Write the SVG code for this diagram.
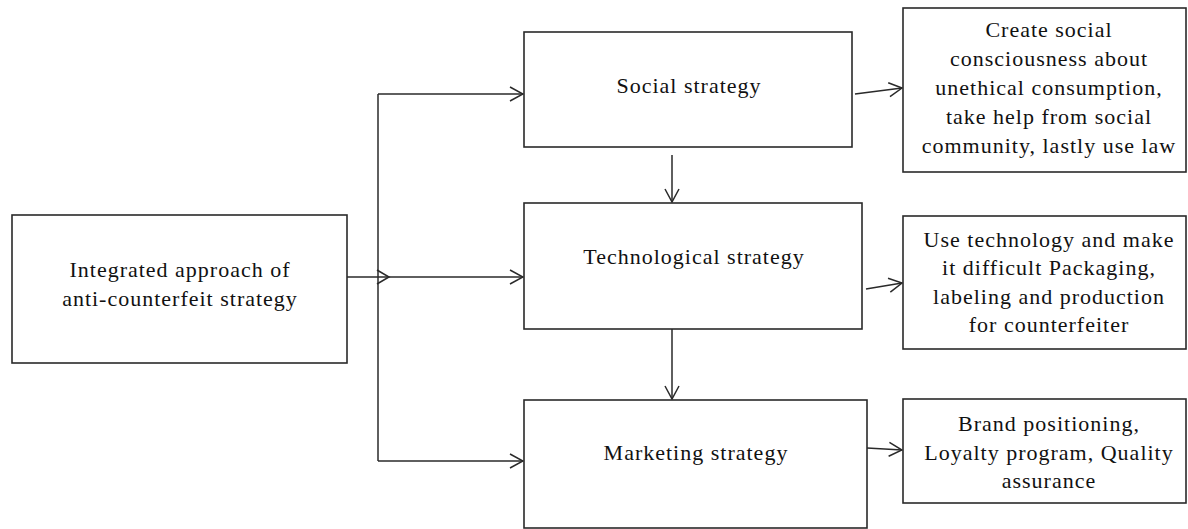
<svg xmlns="http://www.w3.org/2000/svg" width="1188" height="529" viewBox="0 0 1188 529">
<style>
.box{fill:#fff;stroke:#2a2a2a;stroke-width:1.6}
.lbl{font-family:"Liberation Serif","Times New Roman",serif;font-size:22px;fill:#111;text-anchor:middle;letter-spacing:1px}
.con{fill:none;stroke:#2a2a2a;stroke-width:1.5}
</style>
<defs>
<marker id="arr" viewBox="0 0 15 16" refX="14" refY="8" markerWidth="15" markerHeight="16" markerUnits="userSpaceOnUse" orient="auto">
<path d="M1,1 L14,8 L1,15" fill="none" stroke="#2a2a2a" stroke-width="1.5"/>
</marker>
</defs>
<rect width="1188" height="529" fill="#fff"/>
<g id="connectors">
<path class="con" d="M378,94 V461"/>
<path class="con" d="M378,94 H523" marker-end="url(#arr)"/>
<path class="con" d="M345,277 H523" marker-end="url(#arr)"/>
<path class="con" d="M377,270 L389,277 L377,284"/>
<path class="con" d="M378,461 H523" marker-end="url(#arr)"/>
<path class="con" d="M672,155 V202" marker-end="url(#arr)"/>
<path class="con" d="M672,329 V399" marker-end="url(#arr)"/>
<path class="con" d="M855,94 L902,88" marker-end="url(#arr)"/>
<path class="con" d="M866,289 L902,283" marker-end="url(#arr)"/>
<path class="con" d="M867,448 L902,450" marker-end="url(#arr)"/>
</g>
<g id="integrated">
<rect class="box" x="12" y="215" width="335" height="148"/>
<text class="lbl" x="180" y="277">Integrated approach of</text>
<text class="lbl" x="180" y="306">anti-counterfeit strategy</text>
</g>
<g id="social">
<rect class="box" x="524" y="32" width="328" height="115"/>
<text class="lbl" x="689" y="93">Social strategy</text>
</g>
<g id="technological">
<rect class="box" x="524" y="203" width="338" height="126"/>
<text class="lbl" x="694" y="264">Technological strategy</text>
</g>
<g id="marketing">
<rect class="box" x="524" y="400" width="343" height="128"/>
<text class="lbl" x="696" y="460">Marketing strategy</text>
</g>
<g id="social-actions">
<rect class="box" x="903" y="8" width="283" height="164"/>
<text class="lbl" x="1049" y="37">Create social</text>
<text class="lbl" x="1049" y="66">consciousness about</text>
<text class="lbl" x="1049" y="95">unethical consumption,</text>
<text class="lbl" x="1049" y="124">take help from social</text>
<text class="lbl" x="1049" y="153">community, lastly use law</text>
</g>
<g id="tech-actions">
<rect class="box" x="903" y="216" width="283" height="133"/>
<text class="lbl" x="1049" y="247">Use technology and make</text>
<text class="lbl" x="1049" y="275">it difficult Packaging,</text>
<text class="lbl" x="1049" y="304">labeling and production</text>
<text class="lbl" x="1049" y="332">for counterfeiter</text>
</g>
<g id="marketing-actions">
<rect class="box" x="903" y="399" width="283" height="104"/>
<text class="lbl" x="1049" y="431">Brand positioning,</text>
<text class="lbl" x="1049" y="460">Loyalty program, Quality</text>
<text class="lbl" x="1049" y="488">assurance</text>
</g>
</svg>
